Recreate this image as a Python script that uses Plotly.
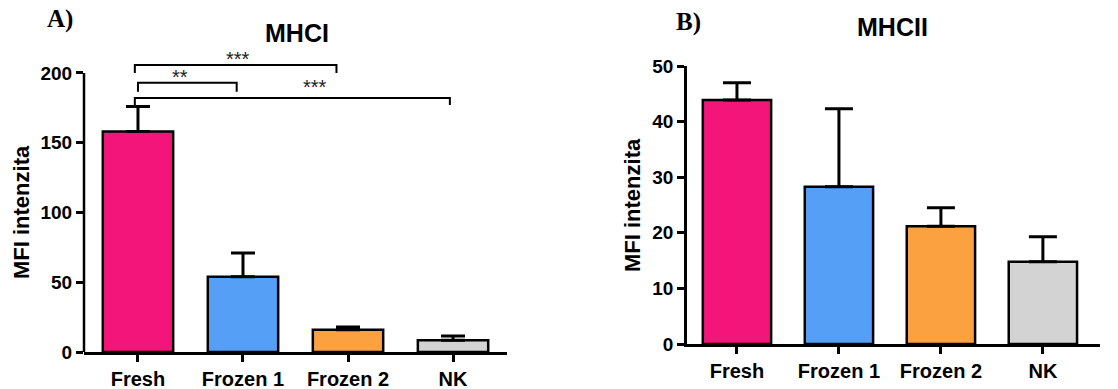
import plotly.graph_objects as go

# ---- data ----
categories = ["Fresh", "Frozen 1", "Frozen 2", "NK"]
mhci_mean = [158, 54, 16, 8.5]
mhci_sem = [18, 17, 2, 3]
mhcii_mean = [43.9, 28.3, 21.2, 14.8]
mhcii_sem = [3.1, 14.0, 3.3, 4.5]
bar_colors = ["#F4157B", "#559FF6", "#FBA140", "#D3D3D3"]
a_ticks = [0, 50, 100, 150, 200]
b_ticks = [0, 10, 20, 30, 40, 50]
# significance brackets for MHCI
sig_labels = ["***", "**", "***"]
sig_x0 = [-0.03, 0.0, -0.03]
sig_x1 = [1.89, 0.94, 2.97]
sig_y = [205.7, 193.0, 182.0]
sig_leg = [200.0, 186.5, 177.0]
sig_lx = [0.95, 0.40, 1.69]
sig_ly = [210.0, 197.0, 190.0]

W, H = 1118, 389
def px(x):
    return x / W
def py(y):
    return 1 - y / H

FONT = "Liberation Sans"
ytickfont = dict(family=FONT, size=19, color="black", weight="bold")
xtickfont = dict(family=FONT, size=20, color="black", weight="bold")

fig = go.Figure()
fig.add_trace(go.Bar(
    x=categories, y=mhci_mean, width=0.67,
    marker=dict(color=bar_colors, line=dict(color="black", width=2.5)),
    error_y=dict(type="data", array=mhci_sem, arrayminus=[0] * len(mhci_sem),
                 symmetric=False, color="black", thickness=3, width=12),
    xaxis="x", yaxis="y", showlegend=False, hoverinfo="x+y"))
fig.add_trace(go.Bar(
    x=categories, y=mhcii_mean, width=0.67,
    marker=dict(color=bar_colors, line=dict(color="black", width=2.5)),
    error_y=dict(type="data", array=mhcii_sem, arrayminus=[0] * len(mhcii_sem),
                 symmetric=False, color="black", thickness=3, width=14),
    xaxis="x2", yaxis="y2", showlegend=False, hoverinfo="x+y"))

axis_common = dict(showgrid=False, zeroline=False, ticks="outside", ticklen=7,
                   tickwidth=2.5, tickcolor="black", automargin=False)

fig.update_layout(
    template="none",
    width=W, height=H,
    margin=dict(l=0, r=0, t=0, b=0, autoexpand=False),
    paper_bgcolor="white", plot_bgcolor="white",
    xaxis=dict(domain=[px(84), px(507)], range=[-0.514, 3.514], anchor="y",
               showline=True, linecolor="black", linewidth=2.5, tickfont=xtickfont,
               **axis_common),
    yaxis=dict(domain=[py(352), py(52)], range=[0, 215], anchor="x",
               tickvals=a_ticks, showline=False, tickfont=ytickfont, **axis_common),
    xaxis2=dict(domain=[px(687), px(1100)], range=[-0.49, 3.56], anchor="y2",
                showline=True, linecolor="black", linewidth=2.5, tickfont=xtickfont,
                **axis_common),
    yaxis2=dict(domain=[py(344), py(66)], range=[0, 50], anchor="x2",
                tickvals=b_ticks, showline=True, linecolor="black", linewidth=2.5,
                tickfont=ytickfont, **axis_common),
)

# y axis line of panel A only up to 200
fig.add_shape(type="line", xref="x domain", yref="y", x0=0, x1=0, y0=0, y1=max(a_ticks),
              line=dict(color="black", width=2.5))

# significance brackets
for lab, x0, x1, yb, yl, lx, ly in zip(sig_labels, sig_x0, sig_x1, sig_y, sig_leg, sig_lx, sig_ly):
    fig.add_shape(type="path", xref="x", yref="y",
                  path=f"M {x0},{yl} L {x0},{yb} L {x1},{yb} L {x1},{yl}",
                  line=dict(color="black", width=2))
    fig.add_annotation(x=lx, y=ly, xref="x", yref="y", text=lab, showarrow=False,
                       xanchor="center", yanchor="middle",
                       font=dict(family=FONT, size=20, color="#222"))

def label(x, y, text, size, family=FONT, angle=0):
    fig.add_annotation(x=px(x), y=py(y), xref="paper", yref="paper", text=text,
                       textangle=angle, showarrow=False, xanchor="center", yanchor="middle",
                       font=dict(family=family, size=size, color="black"))

label(297, 33, "<b>MHCI</b>", 25)
label(892, 27, "<b>MHCII</b>", 25)
label(60, 19, "<b>A)</b>", 25, family="Liberation Serif")
label(688, 22, "<b>B)</b>", 25, family="Liberation Serif")
label(22, 212, "<b>MFI intenzita</b>", 22, angle=-90)
label(632, 205, "<b>MFI intenzita</b>", 22, angle=-90)

fig.write_html("out.html", config={"displayModeBar": False},
               post_script="document.body.style.margin='0px';document.body.style.overflow='hidden';")
